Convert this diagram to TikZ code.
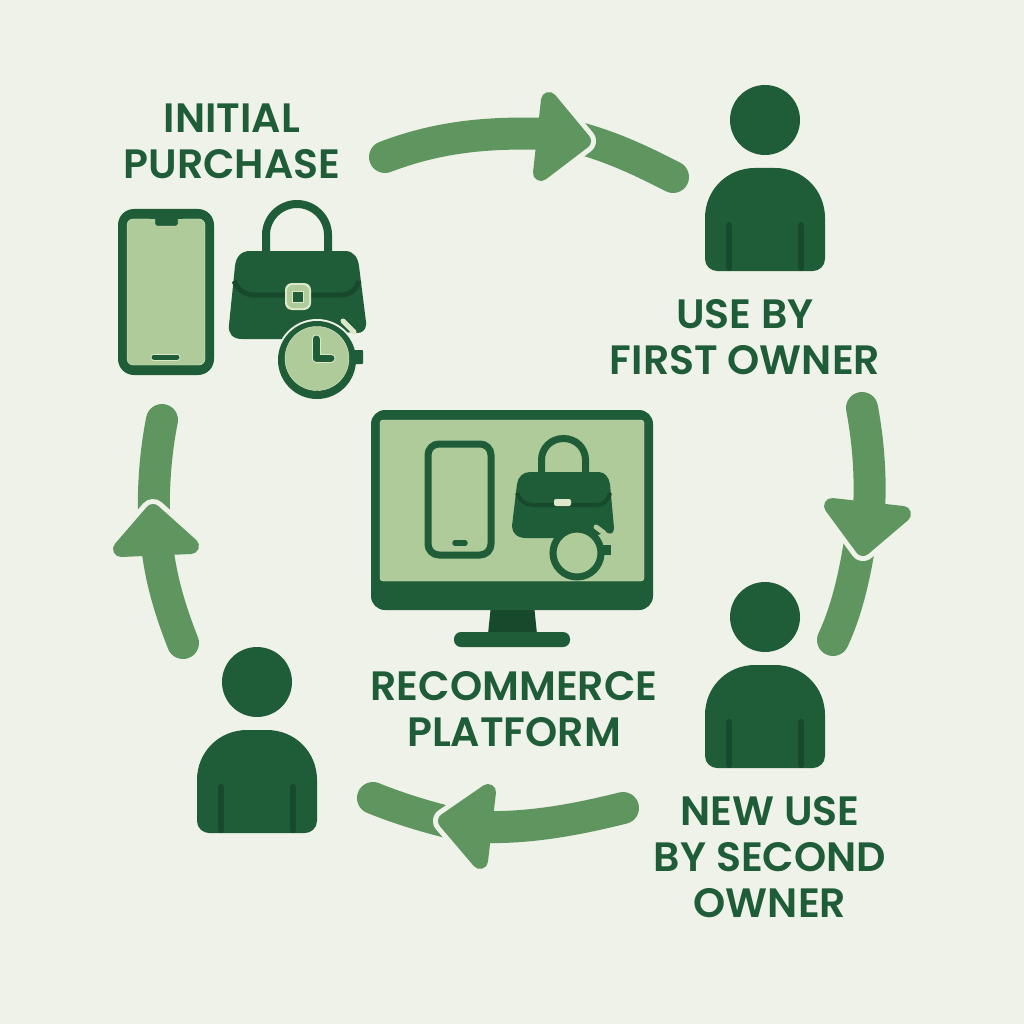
\documentclass[tikz,border=0pt]{standalone}
\usepackage{fontspec}
\setmainfont[BoldFont={Poppins SemiBold}]{Poppins}
\definecolor{paper}{HTML}{EFF2E9}
\definecolor{leaf}{HTML}{1F5C38}
\definecolor{deepleaf}{HTML}{174A2C}
\definecolor{flow}{HTML}{5F9660}
\definecolor{screen}{HTML}{AFCB9A}
\definecolor{pale}{HTML}{DDE8C9}
\tikzset{
    steplabel/.style={text=leaf,font=\fontsize{41}{46}\selectfont\bfseries,align=center,inner sep=0pt},
    flowline/.style={draw=flow,line width=32pt,line cap=round},
    flowhead/.style={draw=flow,fill=flow,line width=16pt,line join=round},
    flowgap/.style={draw=paper,line width=26pt,line join=round},
    person/.pic={
        \fill [leaf] (0,0) circle [radius=35];
        \fill [leaf] (-60,139) -- (-60,98) .. controls (-60,70) and (-38,48) .. (-10,48)
            -- (10,48) .. controls (38,48) and (60,70) .. (60,98) -- (60,139)
            .. controls (60,146) and (54,151) .. (48,151) -- (-48,151)
            .. controls (-54,151) and (-60,146) .. (-60,139) -- cycle;
        \draw [deepleaf,line width=6pt,line cap=round] (-36,105) to (-36,148);
        \draw [deepleaf,line width=6pt,line cap=round] (36,105) to (36,148);
    }
}
\newcommand{\flowhead}[3]{
    \draw [flowhead] #1 -- #2 -- #3 -- cycle;
}
\newcommand{\flowgap}[3]{
    \draw [flowgap] #1 -- #2 -- #3 -- cycle;
}
\begin{document}
\begin{tikzpicture}[x=1pt,y=-1pt]
    \useasboundingbox (0,0) rectangle (1024,1024);
    \fill [paper] (0,0) rectangle (1024,1024);

    % Labels
    \node [steplabel] (purchase) at (232,141) {INITIAL\\PURCHASE};
    \node [steplabel] (firstuse) at (745,337) {USE BY\\FIRST OWNER};
    \node [steplabel] (platform) at (514,709) {RECOMMERCE\\PLATFORM};
    \node [steplabel] (seconduse) at (770,857) {NEW USE\\BY SECOND\\OWNER};

    % Owners
    \pic (ownerone) at (765,120) {person};
    \pic (ownertwo) at (765,617) {person};
    \pic (ownerthree) at (257,682) {person};

    % Arrow from purchase to first owner
    \coordinate (a1) at (385,157);
    \coordinate (a2) at (550,134);
    \coordinate (a3) at (575,137);
    \coordinate (a4) at (673,177);
    \draw [flowline] (a3) .. controls (610,146) and (640,160) .. (a4);
    \flowgap{(583,141)}{(549,100)}{(541,173)}
    \draw [flowline] (a1) .. controls (440,136) and (490,132) .. (a2);
    \flowhead{(583,141)}{(549,100)}{(541,173)}

    % Arrow from first owner to second owner
    \coordinate (b1) at (862,408);
    \coordinate (b2) at (869,510);
    \coordinate (b3) at (861,535);
    \coordinate (b4) at (833,640);
    \draw [flowline] (b3) .. controls (855,575) and (847,610) .. (b4);
    \flowgap{(863,548)}{(832,506)}{(903,514)}
    \draw [flowline] (b1) .. controls (868,440) and (871,475) .. (b2);
    \flowhead{(863,548)}{(832,506)}{(903,514)}

    % Arrow from second owner to third owner
    \coordinate (c1) at (623,808);
    \coordinate (c2) at (485,827);
    \coordinate (c3) at (460,825);
    \coordinate (c4) at (373,798);
    \draw [flowline] (c3) .. controls (430,818) and (400,809) .. (c4);
    \flowgap{(446,821)}{(488,792)}{(480,861)}
    \draw [flowline] (c1) .. controls (575,820) and (530,828) .. (c2);
    \flowhead{(446,821)}{(488,792)}{(480,861)}

    % Arrow from third owner back to purchase
    \coordinate (d1) at (183,643);
    \coordinate (d2) at (157,545);
    \coordinate (d3) at (154,525);
    \coordinate (d4) at (162,420);
    \draw [flowline] (d3) .. controls (153,490) and (155,455) .. (d4);
    \flowgap{(153,512)}{(121,549)}{(191,546)}
    \draw [flowline] (d1) .. controls (170,610) and (161,580) .. (d2);
    \flowhead{(153,512)}{(121,549)}{(191,546)}

    % Phone
    \fill [leaf,rounded corners=16pt] (118,209) rectangle (214,375);
    \draw [pale,fill=screen,rounded corners=6pt] (127,219) rectangle (205,365);
    \draw [pale,fill=leaf,rounded corners=2pt] (155,216) -- (155,226) -- (178,226) -- (178,216);
    \fill [leaf] (150,213) rectangle (183,219);
    \draw [pale,line width=7pt,line cap=round] (154,357) to (177,357);
    \draw [leaf,line width=5pt,line cap=round] (154,357) to (177,357);

    % Bag
    \draw [leaf,line width=8pt] (266,254) -- (266,235) .. controls (266,218) and (280,204) .. (297,204)
        .. controls (314,204) and (328,218) .. (328,235) -- (328,254);
    \fill [leaf] (250,251) -- (345,251) .. controls (354,251) and (358,258) .. (359,266)
        -- (366,322) .. controls (367,331) and (360,335) .. (352,332) -- (300,339) -- (242,339)
        .. controls (232,339) and (228,333) .. (229,325)
        -- (235,266) .. controls (236,257) and (241,251) .. (250,251) -- cycle;
    \draw [deepleaf,line width=5pt] (234,281) .. controls (238,290) and (245,295) .. (254,295)
        -- (340,295) .. controls (350,295) and (356,290) .. (359,281);
    \fill [pale,rounded corners=7pt] (285,283) rectangle (311,310);
    \fill [screen,rounded corners=6pt] (287,285) rectangle (309,308);
    \draw [pale,fill=leaf] (292,291) rectangle (303,302);

    % Clock
    \draw [pale,line width=5pt,line cap=round] (343,321) to (354,332);
    \fill [paper] (317,360) circle [radius=41];
    \fill [leaf,rounded corners=1pt] (354,350) rectangle (363,364);
    \fill [leaf] (317,360) circle [radius=39];
    \draw [pale,fill=screen] (317,358.5) circle [radius=32];
    \draw [pale,line width=9pt,line cap=round,line join=round] (316,339) -- (316,358) -- (331,358);
    \draw [leaf,line width=7pt,line cap=round,line join=round] (316,339) -- (316,358) -- (331,358);

    % Monitor
    \fill [deepleaf] (491,605) -- (534,605) -- (537,634) -- (488,634) -- cycle;
    \fill [leaf,rounded corners=7pt] (454,632) rectangle (570,647);
    \fill [leaf,rounded corners=14pt] (371,410) rectangle (653,610);
    \draw [pale,fill=screen,rounded corners=3pt] (380,420) -- (644,420) -- (644,581) -- (380,581) -- cycle;

    % Phone on the monitor
    \draw [leaf,line width=7pt,rounded corners=11pt] (428,444) rectangle (491,555);
    \draw [leaf,line width=5.5pt,line cap=round] (455,543) to (465,543);

    % Bag on the monitor
    \draw [leaf,line width=7pt] (541.5,474) -- (541.5,460) .. controls (541.5,448) and (551,438.5) .. (563.5,438.5)
        .. controls (576,438.5) and (585.5,448) .. (585.5,460) -- (585.5,474);
    \fill [leaf] (530,472) -- (599,472) .. controls (605,472) and (609,478) .. (610,484)
        -- (614,528) .. controls (614,534) and (610,535) .. (606,532) -- (590,538) -- (526,538)
        .. controls (517,538) and (512,533) .. (512,526)
        -- (517,484) .. controls (518,477) and (523,472) .. (530,472) -- cycle;
    \draw [deepleaf,line width=4pt] (517,493) .. controls (520,501) and (526,505) .. (533,505)
        -- (597,505) .. controls (603,505) and (608,501) .. (610,493);
    \fill [pale,rounded corners=2pt] (554,499) rectangle (571,506);

    % Clock on the monitor
    \draw [screen,line width=5pt,line cap=round] (596,527) to (604,533);
    \fill [leaf] (603,545) rectangle (611,555);
    \draw [leaf,fill=screen,line width=7pt] (577,553) circle [radius=24];
\end{tikzpicture}
\end{document}
